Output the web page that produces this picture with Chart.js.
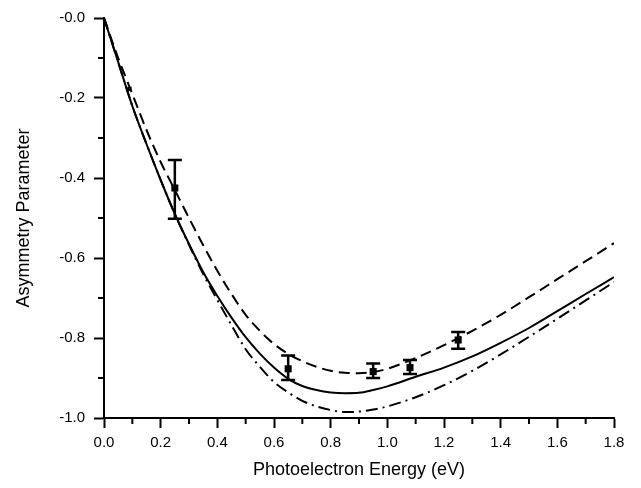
<!DOCTYPE html>
<html>
<head>
<meta charset="utf-8">
<script src="https://cdn.jsdelivr.net/npm/chart.js@4.4.1/dist/chart.umd.min.js"></script>
<style>
  html, body { margin: 0; padding: 0; background: #fff; }
</style>
</head>
<body>
<canvas id="chart" width="641" height="488"></canvas>
<script>
// curve samples
const energy = [0, 0.05, 0.1, 0.15, 0.2, 0.25, 0.3, 0.35, 0.4, 0.45, 0.5, 0.55, 0.6, 0.65, 0.7,
  0.75, 0.8, 0.85, 0.9, 0.95, 1.0, 1.1, 1.2, 1.3, 1.4, 1.5, 1.6, 1.7, 1.8];
const solidCurve = [0, -0.11, -0.22, -0.315, -0.405, -0.49, -0.565, -0.635, -0.695, -0.749, -0.798,
  -0.839, -0.874, -0.902, -0.92, -0.93, -0.936, -0.938, -0.937, -0.93, -0.921, -0.897, -0.874,
  -0.846, -0.812, -0.775, -0.733, -0.69, -0.648];
const dashedCurve = [0, -0.1, -0.19, -0.28, -0.36, -0.43, -0.5, -0.568, -0.632, -0.69, -0.742,
  -0.782, -0.815, -0.84, -0.858, -0.872, -0.882, -0.887, -0.888, -0.885, -0.877, -0.85, -0.818,
  -0.782, -0.742, -0.698, -0.653, -0.608, -0.563];
const dashDotCurve = [0, -0.11, -0.22, -0.315, -0.405, -0.49, -0.567, -0.64, -0.705, -0.768, -0.828,
  -0.872, -0.91, -0.936, -0.957, -0.971, -0.98, -0.985, -0.984, -0.979, -0.971, -0.948, -0.918,
  -0.882, -0.841, -0.797, -0.752, -0.706, -0.66];

// measured points with error bars
const pointEnergy = [0.09, 0.25, 0.65, 0.95, 1.08, 1.25];
const pointValue = [-0.177, -0.425, -0.877, -0.884, -0.874, -0.805];
const pointUpper = [-0.177, -0.355, -0.844, -0.864, -0.855, -0.785];
const pointLower = [-0.177, -0.502, -0.905, -0.9, -0.89, -0.827];
const pointSize = [3, 5, 5, 5, 5, 5];

const FONT = '"Liberation Sans", Arial, Helvetica, sans-serif';

const toXY = (xs, ys) => xs.map((x, i) => ({ x, y: ys[i] }));
const isMinor = v => Math.round(v * 10) % 2 !== 0;

const curve = (data, dash) => ({
  type: 'line',
  data: toXY(energy, data),
  borderColor: '#000',
  borderWidth: 2,
  borderDash: dash,
  pointRadius: 0,
  cubicInterpolationMode: 'monotone',
  fill: false,
});

// error bars drawn through the chart's own scales
const errorBars = {
  id: 'errorBars',
  afterDatasetsDraw(chart) {
    const { ctx, scales: { x, y } } = chart;
    ctx.save();
    ctx.strokeStyle = '#000';
    ctx.lineWidth = 2.5;
    pointEnergy.forEach((e, i) => {
      if (pointUpper[i] === pointLower[i]) return;
      const px = x.getPixelForValue(e);
      const yu = y.getPixelForValue(pointUpper[i]);
      const yl = y.getPixelForValue(pointLower[i]);
      ctx.beginPath();
      ctx.moveTo(px, yu); ctx.lineTo(px, yl);
      ctx.moveTo(px - 7, yu); ctx.lineTo(px + 7, yu);
      ctx.moveTo(px - 7, yl); ctx.lineTo(px + 7, yl);
      ctx.stroke();
    });
    ctx.restore();
  }
};

// short minor tick marks
const minorTicks = {
  id: 'minorTicks',
  afterDraw(chart) {
    const { ctx, scales: { x, y } } = chart;
    ctx.save();
    ctx.strokeStyle = '#000';
    ctx.lineWidth = 2;
    ctx.beginPath();
    x.ticks.forEach(t => {
      if (!isMinor(t.value)) return;
      const px = x.getPixelForValue(t.value);
      ctx.moveTo(px, x.top); ctx.lineTo(px, x.top + 6);
    });
    y.ticks.forEach(t => {
      if (!isMinor(t.value)) return;
      const py = y.getPixelForValue(t.value);
      ctx.moveTo(y.right, py); ctx.lineTo(y.right - 6, py);
    });
    ctx.stroke();
    ctx.restore();
  }
};

new Chart(document.getElementById('chart'), {
  type: 'scatter',
  data: {
    datasets: [
      curve(solidCurve, []),
      curve(dashedCurve, [11, 6]),
      curve(dashDotCurve, [12, 5, 2, 5]),
      {
        type: 'scatter',
        data: toXY(pointEnergy, pointValue),
        pointStyle: 'rect',
        pointRadius: pointSize,
        backgroundColor: '#000',
        borderColor: '#000',
        borderWidth: 0,
      },
    ],
  },
  options: {
    responsive: false,
    animation: false,
    layout: { padding: { top: 13, right: 27, left: 0, bottom: 0 } },
    plugins: { legend: { display: false }, tooltip: { enabled: false } },
    scales: {
      x: {
        type: 'linear',
        min: 0,
        max: 1.8,
        afterFit: s => { s.height = 70; },
        ticks: {
          stepSize: 0.1,
          autoSkip: false,
          maxRotation: 0,
          padding: 6,
          color: '#000',
          font: { family: FONT, size: 15 },
          callback: v => isMinor(v) ? '' : v.toFixed(1),
        },
        grid: {
          drawOnChartArea: false,
          tickLength: 10,
          tickWidth: 2,
          tickColor: c => isMinor(c.tick.value) ? 'rgba(0,0,0,0)' : '#000',
        },
        border: { color: '#000', width: 2 },
        title: {
          display: true,
          text: 'Photoelectron Energy (eV)',
          color: '#000',
          font: { family: FONT, size: 18 },
          padding: { top: 0, bottom: 7 },
        },
      },
      y: {
        type: 'linear',
        min: -1,
        max: 0,
        afterFit: s => { s.width = 104; },
        ticks: {
          stepSize: 0.1,
          autoSkip: false,
          padding: 9,
          color: '#000',
          font: { family: FONT, size: 15 },
          callback: v => isMinor(v) ? '' : (v <= 0 ? '-' : '') + Math.abs(v).toFixed(1),
        },
        grid: {
          drawOnChartArea: false,
          tickLength: 10,
          tickWidth: 2,
          tickColor: c => isMinor(c.tick.value) ? 'rgba(0,0,0,0)' : '#000',
        },
        border: { color: '#000', width: 2 },
        title: {
          display: true,
          text: 'Asymmetry Parameter',
          color: '#000',
          font: { family: FONT, size: 18 },
          padding: { top: 13, bottom: 0 },
        },
      },
    },
  },
  plugins: [errorBars, minorTicks],
});
</script>
</body>
</html>
